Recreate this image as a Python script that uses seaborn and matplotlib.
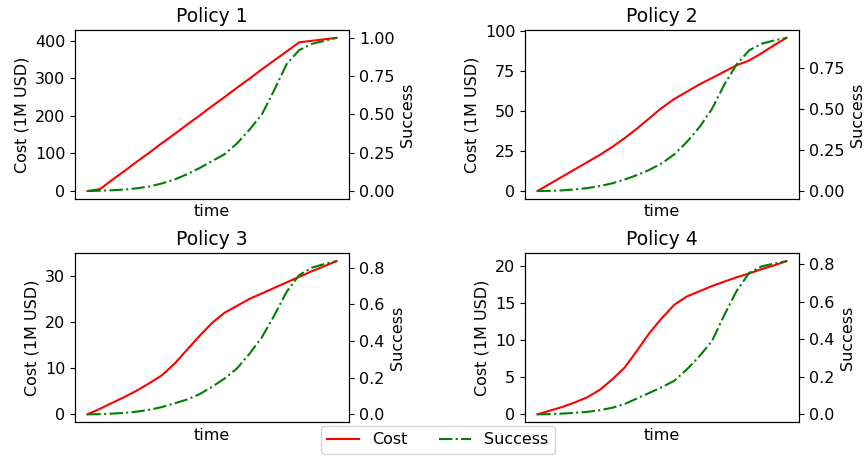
import matplotlib
matplotlib.use("Agg")
import matplotlib.pyplot as plt
import seaborn as sns
from matplotlib.lines import Line2D
from matplotlib.ticker import MultipleLocator

time = list(range(21))

policies = ["Policy 1", "Policy 2", "Policy 3", "Policy 4"]

cost_p1 = [0, 5, 30, 54, 79, 103, 128, 152, 177, 201, 226, 250, 275, 299, 324, 348,
           372, 396, 400, 404, 408]
cost_p2 = [0, 4.5, 9, 13.5, 18, 22.5, 27.5, 33, 39, 45.5, 52, 57.5, 62, 66.5, 70.5,
           74.5, 78.5, 81.5, 86, 91, 95.6]
cost_p3 = [0, 1.2, 2.5, 3.8, 5.2, 6.8, 8.5, 11, 14, 17, 19.8, 22, 23.5, 25, 26.2,
           27.4, 28.6, 29.8, 31, 32.1, 33.2]
cost_p4 = [0, 0.5, 1.0, 1.6, 2.3, 3.3, 4.7, 6.3, 8.6, 11.0, 13.0, 14.8, 15.9, 16.6,
           17.3, 17.9, 18.5, 19.0, 19.6, 20.1, 20.67]

success_p1 = [0, 0.002, 0.005, 0.01, 0.018, 0.03, 0.05, 0.075, 0.11, 0.15, 0.195,
              0.24, 0.31, 0.40, 0.50, 0.66, 0.83, 0.92, 0.96, 0.98, 1.0]
success_p2 = [0, 0.001, 0.004, 0.01, 0.018, 0.03, 0.047, 0.07, 0.098, 0.13, 0.17,
              0.225, 0.3, 0.39, 0.50, 0.65, 0.775, 0.86, 0.90, 0.92, 0.936]
success_p3 = [0, 0.001, 0.004, 0.008, 0.015, 0.025, 0.04, 0.06, 0.081, 0.11, 0.15,
              0.195, 0.25, 0.33, 0.42, 0.54, 0.67, 0.76, 0.80, 0.82, 0.836]
success_p4 = [0, 0.001, 0.004, 0.008, 0.013, 0.022, 0.035, 0.055, 0.085, 0.115, 0.145,
              0.18, 0.24, 0.31, 0.39, 0.53, 0.66, 0.755, 0.79, 0.805, 0.818]

costs = [cost_p1, cost_p2, cost_p3, cost_p4]
successes = [success_p1, success_p2, success_p3, success_p4]

# tick spacing per panel (left, right)
cost_steps = [100, 25, 10, 5]
success_steps = [0.25, 0.25, 0.2, 0.2]

fs = 11.5
plt.rcParams['font.size'] = fs

fig, axes = plt.subplots(2, 2, figsize=(8.67, 4.57), dpi=100)
fig.subplots_adjust(left=0.0865, right=0.9216, top=0.934, bottom=0.0766,
                    wspace=0.642, hspace=0.325)

for ax, name, cost, succ, cs, ss in zip(axes.flat, policies, costs, successes,
                                         cost_steps, success_steps):
    sns.lineplot(x=time, y=cost, ax=ax, color='red', linewidth=1.5, legend=False)
    ax2 = ax.twinx()
    sns.lineplot(x=time, y=succ, ax=ax2, color='green', linewidth=1.5,
                 linestyle='-.', legend=False)
    ax.set_title(name, fontsize=13.5)
    ax.set_xlabel('time', fontsize=fs)
    ax.set_ylabel('Cost (1M USD)', fontsize=fs)
    ax2.set_ylabel('Success', fontsize=fs)
    ax.set_xticks([])
    ax.yaxis.set_major_locator(MultipleLocator(cs))
    ax2.yaxis.set_major_locator(MultipleLocator(ss))
    if ss == 0.25:
        ax2.yaxis.set_major_formatter('{x:.2f}')
    else:
        ax2.yaxis.set_major_formatter('{x:.1f}')
    ax.tick_params(labelsize=fs)
    ax2.tick_params(labelsize=fs)

handles = [Line2D([], [], color='red', linewidth=1.5, label='Cost'),
           Line2D([], [], color='green', linewidth=1.5, linestyle='-.', label='Success')]
fig.legend(handles=handles, loc='lower center', ncol=2, fontsize=fs,
           bbox_to_anchor=(0.505, -0.01))

fig.savefig('out.png', dpi=100)
